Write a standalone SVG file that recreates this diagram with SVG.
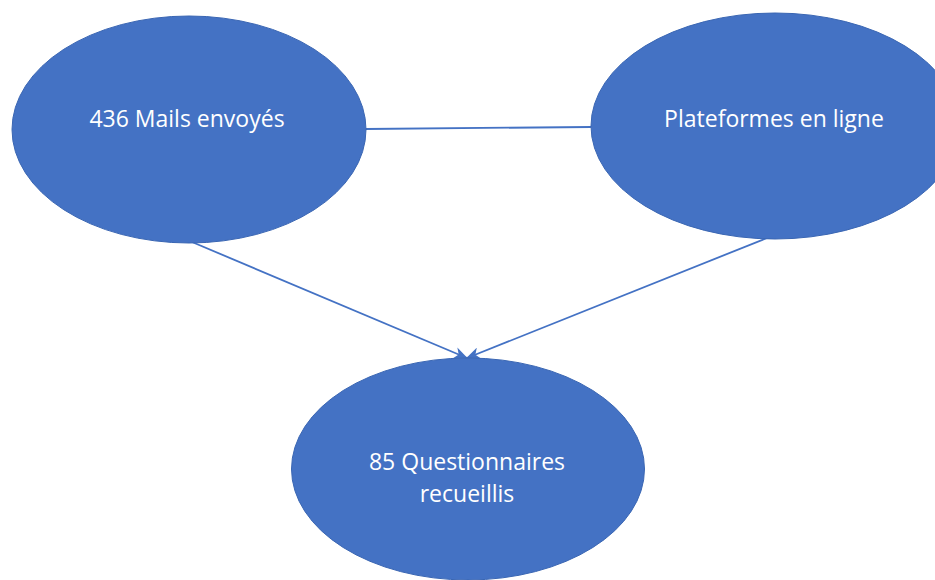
<svg xmlns="http://www.w3.org/2000/svg" width="935" height="580" viewBox="0 0 935 580">
  <style>
    .node { fill: #4472C4; stroke: #3A66B3; stroke-width: 1; }
    .label { font-family: "Open Sans", "Liberation Sans", sans-serif; font-size: 23px; fill: #FFFFFF; text-anchor: middle; }
    .conn { stroke: #4472C4; stroke-width: 1.8; fill: none; }
  </style>
  <defs>
    <marker id="arrow" viewBox="0 0 14 12" refX="13" refY="6" markerWidth="14" markerHeight="12" markerUnits="userSpaceOnUse" orient="auto">
      <path d="M0,0 L14,6 L0,12 L4,6 Z" fill="#4472C4"/>
    </marker>
  </defs>
  <rect width="935" height="580" fill="#FFFFFF"/>
  <g id="connectors">
    <line class="conn" x1="366" y1="129" x2="591" y2="127"/>
    <line class="conn" x1="192" y1="242" x2="467" y2="358" marker-end="url(#arrow)"/>
    <line class="conn" x1="767" y1="238" x2="467" y2="358" marker-end="url(#arrow)"/>
  </g>
  <g id="node-mails">
    <ellipse class="node" cx="189" cy="129.5" rx="177" ry="113.5"/>
    <text class="label" x="187" y="127">436 Mails envoyés</text>
  </g>
  <g id="node-plateformes">
    <ellipse class="node" cx="775" cy="126" rx="184" ry="113"/>
    <text class="label" x="774" y="127">Plateformes en ligne</text>
  </g>
  <g id="node-questionnaires">
    <ellipse class="node" cx="468" cy="469" rx="176.5" ry="111"/>
    <text class="label" x="467" y="470">85 Questionnaires</text>
    <text class="label" x="467" y="502">recueillis</text>
  </g>
</svg>
